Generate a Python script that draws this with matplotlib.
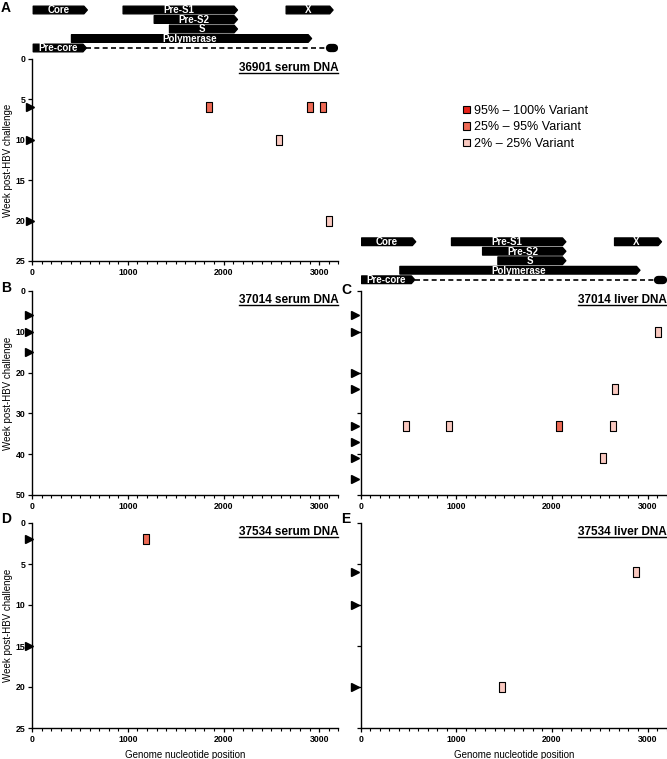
import matplotlib
matplotlib.use("Agg")
import matplotlib.pyplot as plt
from matplotlib.patches import Polygon, Patch
from matplotlib.lines import Line2D
from matplotlib.ticker import MultipleLocator

plt.rcParams['font.family'] = ['Liberation Sans', 'DejaVu Sans']

W, H = 667, 759

# genome map
gene_names = ['Core', 'Pre-S1', 'X', 'Pre-S2', 'S', 'Polymerase', 'Pre-core']
gene_start = [10, 950, 2655, 1275, 1435, 410, 10]
gene_end = [575, 2145, 3145, 2145, 2145, 2920, 565]
gene_row = [0, 0, 0, 1, 2, 3, 4]
precore_tail = [565, 3100]   # dashed continuation
precore_cap = [3110, 3160]

# variant levels
levels = ['high', 'mid', 'low']
level_labels = ['95% \u2013 100% Variant', '25% \u2013 95% Variant', '2% \u2013 25% Variant']
level_colors = {'high': '#e8231a', 'mid': '#ee6a55', 'low': '#f9c9c0'}

# panel A: 36901 serum
a_pos = [1850, 2900, 3045, 2585, 3105]
a_week = [6, 6, 6, 10, 20]
a_level = ['mid', 'mid', 'mid', 'low', 'low']
a_samples = [6, 10, 20]

# panel B: 37014 serum
b_pos = []
b_week = []
b_level = []
b_samples = [6, 10, 15]

# panel C: 37014 liver
c_pos = [3113, 2660, 474, 924, 2078, 2636, 2538]
c_week = [10, 24, 33, 33, 33, 33, 41]
c_level = ['low', 'low', 'low', 'low', 'mid', 'low', 'low']
c_samples = [6, 10, 20, 24, 33, 37, 41, 46]

# panel D: 37534 serum
d_pos = [1186]
d_week = [2]
d_level = ['mid']
d_samples = [2, 15]

# panel E: 37534 liver
e_pos = [2877, 1481]
e_week = [6, 20]
e_level = ['low', 'low']
e_samples = [6, 10, 20]

fig = plt.figure(figsize=(W / 100, H / 100), dpi=100)


def rect(left, top, w, h):
    return [left / W, 1 - (top + h) / H, w / W, h / H]


rect_marker = [(-0.25, -0.5), (0.25, -0.5), (0.25, 0.5), (-0.25, 0.5), (-0.25, -0.5)]


def panel(box, ymax, ystep, title, pos, week, level, samples, tri_x, ylabels=True):
    ax = fig.add_axes(rect(*box))
    ax.set_xlim(0, 3200)
    ax.set_ylim(ymax, 0)
    ax.set_yticks(range(0, ymax + 1, ystep))
    ax.xaxis.set_major_locator(MultipleLocator(1000))
    ax.xaxis.set_minor_locator(MultipleLocator(100))
    for s in ['top', 'right']:
        ax.spines[s].set_visible(False)
    for s in ['left', 'bottom']:
        ax.spines[s].set_linewidth(1.0)
    ax.tick_params(which='major', length=3, width=0.9, labelsize=6.3, pad=2)
    ax.tick_params(which='minor', length=2, width=0.8)
    for lab in ax.get_xticklabels() + ax.get_yticklabels():
        lab.set_fontweight('bold')
    if ylabels:
        ax.set_ylabel('Week post-HBV challenge', fontsize=7, labelpad=2)
    else:
        ax.set_yticklabels([])
    for lv in levels:
        xs = [p for p, l in zip(pos, level) if l == lv]
        ys = [w for w, l in zip(week, level) if l == lv]
        if xs:
            ax.scatter(xs, ys, marker=rect_marker, s=52, c=level_colors[lv],
                       edgecolors='black', linewidths=0.8, zorder=3)
    ax.plot([tri_x] * len(samples), samples, linestyle='none', marker='>', ms=5.3,
            color='black', transform=ax.get_yaxis_transform(), clip_on=False)
    t = ax.text(1.0, 0.985, title, transform=ax.transAxes, ha='right', va='top',
                fontsize=8.5, fontweight='bold')
    return ax, t


def genome_map(box):
    ax = fig.add_axes(rect(*box))
    ax.set_xlim(0, 3200)
    ax.set_ylim(4.5, -0.5)
    ax.axis('off')
    h = 0.8
    tip = 35
    for name, x0, x1, r in zip(gene_names, gene_start, gene_end, gene_row):
        verts = [(x0, r - h / 2), (x1 - tip, r - h / 2), (x1, r), (x1 - tip, r + h / 2), (x0, r + h / 2)]
        ax.add_patch(Polygon(verts, closed=True, facecolor='black', edgecolor='black',
                             linewidth=1.0, joinstyle='round'))
        ax.text((x0 + x1 - tip) / 2, r + 0.03, name, ha='center', va='center', color='white',
                fontsize=7, fontweight='bold')
    ax.plot(precore_tail, [4, 4], color='black', linewidth=1.2, linestyle=(0, (3, 2)))
    ax.plot(precore_cap, [4, 4], color='black', linewidth=6, solid_capstyle='round')
    return ax


genome_map((32.3, 5.25, 306, 47.5))
genome_map((360.7, 237, 306, 47.5))

titles = []
axA, t = panel((32.3, 59, 306, 202), 25, 5, '36901 serum DNA', a_pos, a_week, a_level, a_samples, -0.009)
titles.append(t)
axB, t = panel((32.3, 291, 306, 204), 50, 10, '37014 serum DNA', b_pos, b_week, b_level, b_samples, -0.012)
titles.append(t)
axC, t = panel((360.7, 291, 306, 204), 50, 10, '37014 liver DNA', c_pos, c_week, c_level, c_samples, -0.019, False)
titles.append(t)
axD, t = panel((32.3, 523, 306, 205), 25, 5, '37534 serum DNA', d_pos, d_week, d_level, d_samples, -0.012)
titles.append(t)
axE, t = panel((360.7, 523, 306, 205), 25, 5, '37534 liver DNA', e_pos, e_week, e_level, e_samples, -0.02, False)
titles.append(t)

axD.set_xlabel('Genome nucleotide position', fontsize=7, labelpad=4)
axE.set_xlabel('Genome nucleotide position', fontsize=7, labelpad=4)

for letter, x, y in [('A', 1, 1), ('B', 1, 281), ('C', 341, 283), ('D', 1, 512), ('E', 341, 512)]:
    fig.text(x / W, 1 - y / H, letter, ha='left', va='top', fontsize=10, fontweight='bold')

handles = [Patch(facecolor=level_colors[lv], edgecolor='black', linewidth=0.8) for lv in levels]
fig.legend(handles, level_labels, loc='upper left', bbox_to_anchor=(458 / W, 1 - 100 / H),
           frameon=False, fontsize=9, handlelength=0.55, handleheight=0.55,
           handletextpad=0.35, labelspacing=0.35, borderaxespad=0)

# underline panel titles, just under the baseline
fig.canvas.draw()
renderer = fig.canvas.get_renderer()
inv = fig.transFigure.inverted()
for t in titles:
    bb = t.get_window_extent(renderer)
    _, _, descent = renderer.get_text_width_height_descent('lp', t.get_fontproperties(), ismath=False)
    ybase = bb.y0 + descent - 1.8
    (x0, y0), (x1, _) = inv.transform([(bb.x0, ybase), (bb.x1, ybase)])
    fig.add_artist(Line2D([x0, x1], [y0, y0], color='black', linewidth=1.0, transform=fig.transFigure))

fig.savefig('out.png', dpi=100)
